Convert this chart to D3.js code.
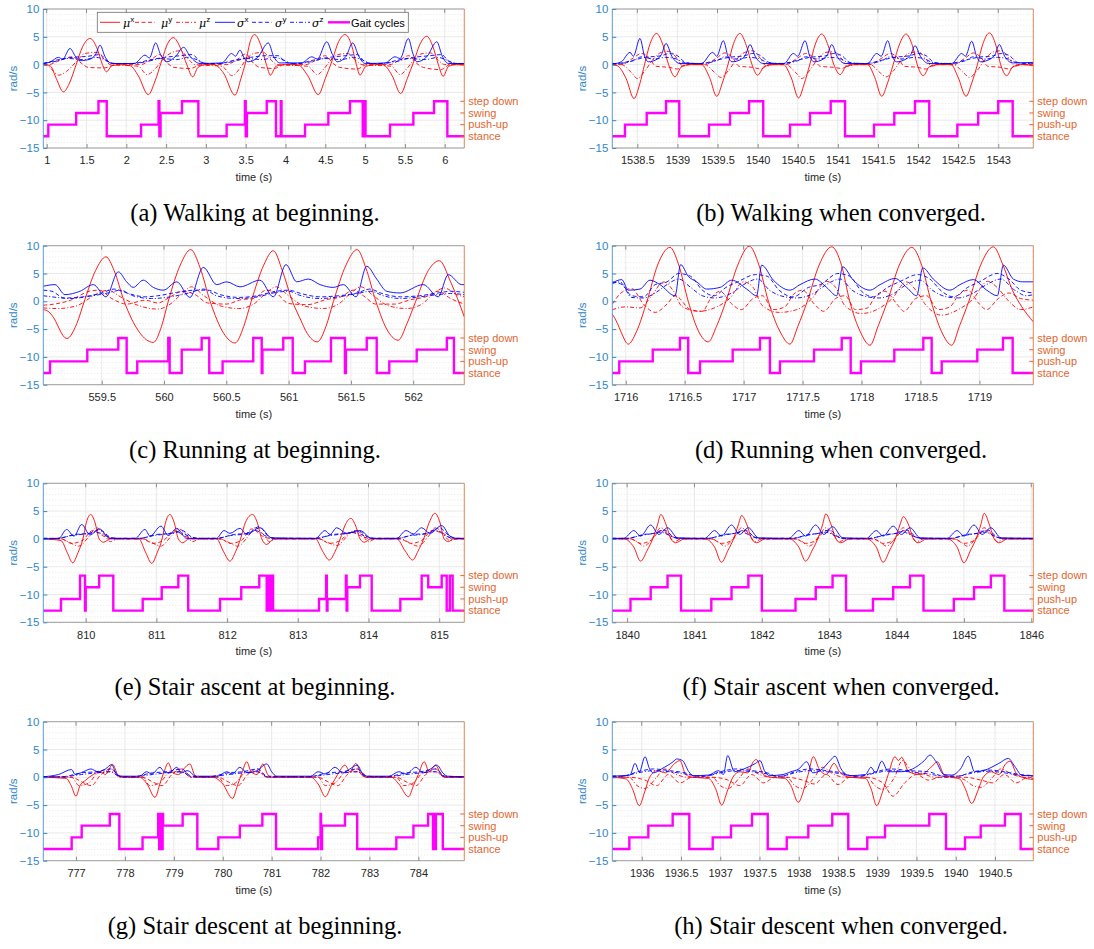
<!DOCTYPE html>
<html>
<head>
<meta charset="utf-8">
<script src="https://cdnjs.cloudflare.com/ajax/libs/d3/7.8.5/d3.min.js"></script>
<style>
  body { margin: 0; background: #fff; }
  svg { display: block; font-family: "Liberation Sans", Arial, sans-serif; }
</style>
</head>
<body>
<svg id="chart" width="1094" height="949"></svg>
<script>
// ---------- shared labels ----------
var captions = ["(a) Walking at beginning.", "(b) Walking when converged.",
                "(c) Running at beginning.", "(d) Running when converged.",
                "(e) Stair ascent at beginning.", "(f) Stair ascent when converged.",
                "(g) Stair descent at beginning.", "(h) Stair descent when converged."];
var yTicks = [-15, -10, -5, 0, 5, 10];
var gaitLabels = ["stance", "push-up", "swing", "step down"];
var gaitLevels = [-12.9, -10.8, -8.7, -6.6];
var legendBase = ["\u03bc", "\u03bc", "\u03bc", "\u03c3", "\u03c3", "\u03c3", "Gait cycles"];
var legendSup = ["x", "y", "z", "x", "y", "z", ""];

var xDomains = [[0.957, 6.246], [1538.188, 1543.437], [559.031, 562.41], [1715.886, 1719.457],
                [809.4, 815.355], [1839.78, 1846.03], [776.33, 784.94], [1935.625, 1940.988]];
var xTicks = [[1, 1.5, 2, 2.5, 3, 3.5, 4, 4.5, 5, 5.5, 6],
              [1538.5, 1539, 1539.5, 1540, 1540.5, 1541, 1541.5, 1542, 1542.5, 1543],
              [559.5, 560, 560.5, 561, 561.5, 562],
              [1716, 1716.5, 1717, 1717.5, 1718, 1718.5, 1719],
              [810, 811, 812, 813, 814, 815],
              [1840, 1841, 1842, 1843, 1844, 1845, 1846],
              [777, 778, 779, 780, 781, 782, 783, 784],
              [1936, 1936.5, 1937, 1937.5, 1938, 1938.5, 1939, 1939.5, 1940, 1940.5]];

// ---------- (a) walking at beginning ----------
var gait_a = [[0.957,0],[1.02,1],[1.37,2],[1.65,3],[1.754,0],[2.185,1],[2.405,3],[2.415,0],[2.43,2],[2.70,3],[2.905,0],[3.26,1],[3.49,3],[3.50,0],[3.515,2],[3.764,3],[3.88,0],[3.94,3],[3.95,0],[4.245,1],[4.538,2],[4.81,3],[4.97,0],[4.995,3],[5.005,0],[5.313,1],[5.606,2],[5.866,3],[6.033,0],[6.246,0]];
var muX_a = [[0.957,0.1],[1.05,-0.3],[1.12,-2.5],[1.21,-4.9],[1.28,-3.5],[1.37,0],[1.45,3.2],[1.545,4.7],[1.63,3.0],[1.70,0],[1.75,-1.3],[1.82,-0.2],[1.95,0],
  [2.05,-0.2],[2.15,-2.0],[2.276,-5.4],[2.36,-3.0],[2.44,0.5],[2.52,3.8],[2.59,4.85],[2.68,3.0],[2.76,0],[2.834,-2.2],[2.90,-0.5],[3.0,0],
  [3.10,0],[3.22,-1.5],[3.365,-5.5],[3.44,-2.5],[3.50,0.5],[3.56,4.3],[3.61,5.4],[3.69,3.5],[3.76,0],[3.81,-1.9],[3.88,-0.3],[4.0,0],
  [4.15,0],[4.28,-2.0],[4.412,-5.4],[4.50,-2.5],[4.58,0.5],[4.67,4.2],[4.747,5.4],[4.83,3.5],[4.89,0],[4.936,-1.9],[5.01,-0.3],[5.15,0],
  [5.22,0],[5.34,-2.0],[5.447,-5.2],[5.53,-2.5],[5.61,0.5],[5.70,4.0],[5.774,5.1],[5.85,3.3],[5.92,0],[5.98,-2.1],[6.05,-0.3],[6.15,0],[6.246,-0.1]];
var muY_a = [[0.957,0],[1.02,0],[1.17,0.8],[1.32,1.4],[1.44,0.2],[1.52,-0.5],[1.72,-0.6],[1.87,0],
  [2.18,0],[2.30,0.8],[2.42,1.8],[2.52,0.2],[2.60,-0.5],[2.80,-0.7],[2.95,0],
  [3.26,0],[3.38,0.8],[3.50,1.9],[3.60,0.2],[3.68,-0.5],[3.86,-0.7],[3.98,0],
  [4.25,0],[4.38,0.8],[4.50,1.6],[4.60,0.2],[4.68,-0.5],[4.90,-0.8],[5.02,0],
  [5.31,0],[5.43,0.8],[5.55,1.6],[5.65,0.2],[5.73,-0.5],[5.95,-0.9],[6.07,0],[6.246,0]];
var muZ_a = [[0.957,0],[1.02,-0.3],[1.15,-1.9],[1.25,-1.2],[1.37,0.5],[1.48,2.0],[1.62,2.2],[1.72,1.0],[1.80,0],
  [2.15,-0.3],[2.26,-1.8],[2.36,-0.8],[2.45,0.8],[2.55,2.0],[2.68,2.5],[2.78,1.0],[2.86,0],
  [3.20,-0.3],[3.33,-2.0],[3.42,-0.8],[3.50,0.8],[3.60,2.0],[3.72,2.2],[3.82,0.8],[3.90,0],
  [4.28,-0.3],[4.40,-1.8],[4.48,-0.8],[4.57,0.8],[4.66,1.8],[4.78,2.0],[4.88,0.8],[4.96,0],
  [5.33,-0.3],[5.44,-1.8],[5.52,-0.8],[5.61,0.8],[5.70,1.9],[5.82,2.1],[5.92,0.8],[6.0,0],[6.246,0]];
var sigX_a = [[0.957,0.2],[1.05,0.5],[1.146,1.3],[1.20,1.0],[1.293,2.9],[1.36,1.5],[1.418,0.7],[1.55,1.0],[1.62,2.0],[1.67,3.5],[1.73,1.5],[1.817,0.2],
  [2.10,0.2],[2.235,1.7],[2.29,1.2],[2.369,3.9],[2.43,1.8],[2.508,0.5],[2.62,1.5],[2.72,3.1],[2.80,1.5],[2.926,0.2],
  [3.20,0.3],[3.324,2.0],[3.37,1.5],[3.428,2.6],[3.48,1.2],[3.53,0.5],[3.65,1.3],[3.784,3.9],[3.85,1.5],[3.93,0.3],
  [4.20,0.3],[4.33,1.4],[4.40,1.0],[4.518,4.1],[4.59,1.8],[4.65,0.5],[4.76,1.5],[4.844,3.9],[4.92,1.5],[5.0,0.2],
  [5.25,0.3],[5.376,1.4],[5.44,1.1],[5.543,4.7],[5.60,2.0],[5.65,0.5],[5.78,1.5],[5.90,4.1],[5.97,1.5],[6.045,0.2],[6.246,0.2]];
var sigY_a = [[0.957,0.2],[1.12,0.8],[1.32,1.3],[1.52,1.5],[1.67,1.8],[1.77,0.5],[1.87,0.2],
  [2.08,0.2],[2.28,0.8],[2.48,1.3],[2.68,1.6],[2.83,1.8],[2.93,0.5],[3.03,0.2],
  [3.16,0.2],[3.36,0.8],[3.56,1.3],[3.76,1.6],[3.91,1.6],[4.0,0.4],[4.1,0.2],
  [4.15,0.2],[4.35,0.8],[4.55,1.3],[4.75,1.6],[4.90,1.8],[5.0,0.5],[5.1,0.2],
  [5.21,0.2],[5.41,0.8],[5.61,1.3],[5.81,1.6],[5.96,1.8],[6.06,0.5],[6.16,0.2],[6.246,0.2]];
var sigZ_a = [[0.957,0.2],[1.12,0.6],[1.27,1.1],[1.47,0.9],[1.62,1.3],[1.74,0.8],[1.84,0.2],
  [2.08,0.2],[2.28,0.6],[2.43,1.1],[2.63,0.9],[2.78,1.3],[2.90,0.8],[3.0,0.2],
  [3.16,0.2],[3.36,0.6],[3.51,1.1],[3.71,0.9],[3.86,1.3],[3.98,0.8],[4.08,0.2],
  [4.15,0.2],[4.35,0.6],[4.50,1.1],[4.70,0.9],[4.85,1.3],[4.97,0.8],[5.07,0.2],
  [5.21,0.2],[5.41,0.6],[5.56,1.1],[5.76,0.9],[5.91,1.3],[6.03,0.8],[6.13,0.2],[6.246,0.2]];

// ---------- (b) walking when converged ----------
var gait_b = [[1538.188,0],[1538.346,1],[1538.617,2],[1538.858,3],[1539.023,0],[1539.394,1],[1539.656,2],[1539.893,3],[1540.07,0],[1540.404,1],[1540.653,2],[1540.911,3],[1541.09,0],[1541.451,1],[1541.704,2],[1541.962,3],[1542.14,0],[1542.49,1],[1542.75,2],[1543.0,3],[1543.18,0],[1543.437,0]];
var muX_b = [[1538.188,0],[1538.25,-0.2],[1538.36,-2.5],[1538.459,-6.1],[1538.53,-3.5],[1538.59,0],[1538.66,3.8],[1538.74,5.6],[1538.82,3.5],[1538.89,0],[1538.97,-2.2],[1539.05,-0.4],[1539.15,0],
  [1539.30,0],[1539.40,-2.3],[1539.49,-5.7],[1539.56,-3.3],[1539.63,0],[1539.70,3.8],[1539.78,5.6],[1539.86,3.4],[1539.93,0],[1540.0,-1.9],[1540.08,-0.4],[1540.2,0],
  [1540.32,0],[1540.42,-2.4],[1540.51,-6.0],[1540.58,-3.5],[1540.65,0],[1540.72,3.7],[1540.80,5.5],[1540.88,3.4],[1540.95,0],[1541.03,-1.8],[1541.10,-0.4],[1541.22,0],
  [1541.37,0],[1541.46,-2.3],[1541.547,-5.7],[1541.62,-3.3],[1541.69,0],[1541.77,3.7],[1541.85,5.5],[1541.93,3.4],[1541.99,0],[1542.066,-2.0],[1542.14,-0.4],[1542.25,0],
  [1542.41,0],[1542.50,-2.3],[1542.598,-5.7],[1542.67,-3.3],[1542.74,0],[1542.81,3.8],[1542.89,5.7],[1542.97,3.5],[1543.03,0],[1543.106,-2.0],[1543.18,-0.4],[1543.30,0],[1543.437,-0.2]];
var muY_b = [[1538.188,0],[1538.30,0],[1538.45,1.2],[1538.55,2.0],[1538.65,1.2],[1538.73,-0.3],[1538.90,-0.5],[1539.0,-0.8],[1539.10,0],
  [1539.34,0],[1539.49,1.2],[1539.59,2.1],[1539.69,1.2],[1539.77,-0.3],[1539.94,-0.5],[1540.04,-0.8],[1540.14,0],
  [1540.35,0],[1540.50,1.2],[1540.60,2.0],[1540.70,1.2],[1540.78,-0.3],[1540.95,-0.5],[1541.05,-0.7],[1541.15,0],
  [1541.40,0],[1541.55,1.2],[1541.65,2.0],[1541.75,1.2],[1541.83,-0.3],[1542.0,-0.5],[1542.10,-0.8],[1542.20,0],
  [1542.44,0],[1542.59,1.2],[1542.69,2.1],[1542.79,1.2],[1542.87,-0.3],[1543.04,-0.5],[1543.14,-0.8],[1543.24,0],[1543.437,0]];
var muZ_b = [[1538.188,0],[1538.30,0],[1538.43,-1.5],[1538.50,-2.5],[1538.60,-1.0],[1538.70,1.0],[1538.80,2.2],[1538.90,2.4],[1539.0,1.0],[1539.07,-0.3],[1539.15,0],
  [1539.34,0],[1539.47,-1.5],[1539.54,-2.3],[1539.64,-1.0],[1539.74,1.0],[1539.84,2.2],[1539.94,2.5],[1540.04,1.0],[1540.11,-0.3],[1540.19,0],
  [1540.35,0],[1540.48,-1.5],[1540.55,-2.5],[1540.65,-1.0],[1540.75,1.0],[1540.85,2.2],[1540.95,2.3],[1541.05,1.0],[1541.12,-0.3],[1541.20,0],
  [1541.40,0],[1541.53,-1.5],[1541.60,-2.2],[1541.70,-1.0],[1541.80,1.0],[1541.90,2.1],[1542.0,2.3],[1542.10,1.0],[1542.17,-0.3],[1542.25,0],
  [1542.44,0],[1542.57,-1.5],[1542.64,-2.3],[1542.74,-1.0],[1542.84,1.0],[1542.94,2.3],[1543.04,2.5],[1543.14,1.0],[1543.21,-0.3],[1543.29,0],[1543.437,0]];
var sigX_b = [[1538.188,0.1],[1538.30,0.5],[1538.409,2.2],[1538.45,1.5],[1538.533,4.7],[1538.59,1.5],[1538.637,0.5],[1538.75,1.0],[1538.80,1.8],[1538.858,3.8],[1538.93,1.5],[1539.032,0.2],
  [1539.30,0.2],[1539.44,2.2],[1539.49,1.5],[1539.572,4.3],[1539.63,1.5],[1539.68,0.5],[1539.80,1.0],[1539.85,1.8],[1539.905,3.6],[1539.97,1.5],[1540.07,0.2],
  [1540.33,0.2],[1540.445,2.0],[1540.50,1.5],[1540.591,4.3],[1540.65,1.5],[1540.70,0.5],[1540.82,1.0],[1540.87,1.8],[1540.924,3.6],[1540.99,1.5],[1541.09,0.2],
  [1541.37,0.2],[1541.485,2.0],[1541.54,1.5],[1541.622,4.3],[1541.68,1.5],[1541.73,0.5],[1541.85,1.0],[1541.91,1.8],[1541.962,3.4],[1542.03,1.5],[1542.13,0.2],
  [1542.42,0.2],[1542.545,2.0],[1542.59,1.5],[1542.669,4.2],[1542.73,1.5],[1542.78,0.5],[1542.90,1.0],[1542.96,1.8],[1543.013,3.6],[1543.08,1.5],[1543.18,0.3],[1543.437,0.4]];
var sigY_b = [[1538.188,0.2],[1538.25,0.2],[1538.45,0.8],[1538.60,1.3],[1538.80,1.6],[1538.90,2.0],[1539.0,1.6],[1539.10,0.4],[1539.20,0.2],
  [1539.29,0.2],[1539.49,0.8],[1539.64,1.3],[1539.84,1.6],[1539.94,2.0],[1540.04,1.6],[1540.14,0.4],[1540.24,0.2],
  [1540.30,0.2],[1540.50,0.8],[1540.65,1.3],[1540.85,1.6],[1540.95,2.0],[1541.05,1.6],[1541.15,0.4],[1541.25,0.2],
  [1541.35,0.2],[1541.55,0.8],[1541.70,1.3],[1541.90,1.6],[1542.0,2.0],[1542.10,1.6],[1542.20,0.4],[1542.30,0.2],
  [1542.39,0.2],[1542.59,0.8],[1542.74,1.3],[1542.94,1.6],[1543.04,2.0],[1543.14,1.6],[1543.24,0.4],[1543.34,0.2],[1543.437,0.3]];
var sigZ_b = [[1538.188,0.2],[1538.25,0.2],[1538.45,0.7],[1538.55,1.4],[1538.70,1.0],[1538.85,1.3],[1538.97,1.1],[1539.10,0.3],
  [1539.29,0.2],[1539.49,0.7],[1539.59,1.4],[1539.74,1.0],[1539.89,1.3],[1540.01,1.1],[1540.14,0.3],
  [1540.30,0.2],[1540.50,0.7],[1540.60,1.4],[1540.75,1.0],[1540.90,1.3],[1541.02,1.1],[1541.15,0.3],
  [1541.35,0.2],[1541.55,0.7],[1541.65,1.4],[1541.80,1.0],[1541.95,1.3],[1542.07,1.1],[1542.20,0.3],
  [1542.39,0.2],[1542.59,0.7],[1542.69,1.4],[1542.84,1.0],[1542.99,1.3],[1543.11,1.1],[1543.24,0.3],[1543.437,0.2]];

// ---------- (c) running at beginning ----------
var gait_c = [[559.031,0],[559.085,1],[559.384,2],[559.633,3],[559.70,0],[559.785,1],[560.034,3],[560.045,0],[560.142,2],[560.302,3],[560.363,0],[560.47,1],[560.716,3],[560.784,0],[560.79,2],[560.957,3],[561.033,0],[561.131,1],[561.34,3],[561.452,0],[561.46,2],[561.627,3],[561.707,0],[561.808,1],[562.028,2],[562.27,3],[562.327,0],[562.41,0]];
var muX_c = [[559.031,-1.5],[559.07,-1.8],[559.10,-2.5],[559.22,-6.7],[559.30,-4.0],[559.36,0],[559.45,5.5],[559.534,8.0],[559.60,5.5],[559.68,0],[559.80,-5.5],[559.914,-7.4],[559.98,-4.5],[560.034,0],[560.13,6.5],[560.214,9.3],[560.29,6.0],[560.37,0],[560.48,-5.8],[560.57,-7.5],[560.64,-4.5],[560.70,0],[560.80,6.5],[560.877,9.1],[560.95,5.5],[561.03,0],[561.09,-3.0],[561.15,-5.8],[561.23,-7.3],[561.30,-4.5],[561.36,0],[561.46,6.5],[561.55,9.3],[561.62,6.0],[561.70,0],[561.80,-5.5],[561.88,-7.0],[561.95,-4.0],[562.02,0],[562.12,5.5],[562.21,7.3],[562.30,3.5],[562.41,-2.8]];
var muY_c = [[559.031,-0.7],[559.12,-0.5],[559.25,0.2],[559.40,1.8],[559.48,2.0],[559.58,0.5],[559.70,-0.5],[559.85,0.2],[559.95,-0.3],[560.05,0.8],[560.15,1.8],[560.25,1.2],[560.35,-0.3],[560.50,-0.5],[560.62,0.3],[560.72,0.5],[560.82,2.0],[560.90,1.5],[561.0,-0.4],[561.15,-0.6],[561.30,0.3],[561.42,0.8],[561.52,2.0],[561.60,1.0],[561.70,-0.5],[561.85,-0.5],[561.98,0.3],[562.10,0.8],[562.20,1.8],[562.30,0.5],[562.41,-0.5]];
var muZ_c = [[559.031,-1.2],[559.15,-1.3],[559.30,-0.8],[559.45,1.2],[559.55,2.0],[559.65,0.8],[559.80,-0.8],[559.95,-1.4],[560.05,-0.5],[560.15,1.5],[560.22,2.6],[560.32,1.0],[560.45,-0.8],[560.60,-1.3],[560.72,-0.5],[560.82,1.5],[560.90,2.6],[561.0,1.0],[561.12,-0.8],[561.28,-1.3],[561.40,-0.5],[561.50,1.5],[561.58,2.6],[561.68,1.0],[561.80,-0.8],[561.95,-1.3],[562.07,-0.5],[562.17,1.5],[562.25,2.4],[562.35,1.2],[562.41,0.8]];
var sigX_c = [[559.031,2.7],[559.125,3.0],[559.205,1.2],[559.325,1.8],[559.432,3.0],[559.534,0.8],[559.633,5.3],[559.70,3.5],[559.753,2.5],[559.833,3.8],[559.914,2.5],[559.994,2.0],[560.102,3.5],[560.208,0.7],[560.315,6.1],[560.423,3.0],[560.503,3.5],[560.61,2.6],[560.77,3.8],[560.877,0.8],[560.979,6.6],[561.065,3.5],[561.158,4.0],[561.252,3.0],[561.358,2.5],[561.439,3.0],[561.541,0.8],[561.627,6.3],[561.707,4.0],[561.787,1.8],[561.894,1.5],[562.081,3.0],[562.201,0.8],[562.281,4.8],[562.389,3.0],[562.41,3.0]];
var sigY_c = [[559.031,2.0],[559.10,1.8],[559.20,0.6],[559.35,0.8],[559.50,1.5],[559.60,2.2],[559.70,1.5],[559.85,0.8],[559.95,1.0],[560.10,1.6],[560.25,2.0],[560.35,2.0],[560.45,1.2],[560.60,0.7],[560.75,1.0],[560.90,1.8],[561.0,2.0],[561.10,1.4],[561.25,0.8],[561.40,1.0],[561.55,1.5],[561.65,2.2],[561.75,1.4],[561.90,0.8],[562.05,1.0],[562.20,1.5],[562.30,1.8],[562.41,1.6]];
var sigZ_c = [[559.031,1.0],[559.10,0.8],[559.25,0.5],[559.40,0.9],[559.55,1.5],[559.65,2.0],[559.75,1.0],[559.90,0.5],[560.05,0.8],[560.20,1.5],[560.32,2.2],[560.42,1.0],[560.58,0.5],[560.75,0.8],[560.90,1.6],[561.0,1.8],[561.10,1.0],[561.25,0.5],[561.40,0.8],[561.55,1.4],[561.66,1.8],[561.76,1.0],[561.90,0.5],[562.05,0.8],[562.20,1.2],[562.30,1.4],[562.41,1.2]];

// ---------- (d) running when converged ----------
var gait_d = [[1715.886,0],[1715.945,1],[1716.229,2],[1716.46,3],[1716.53,0],[1716.63,1],[1716.907,2],[1717.139,3],[1717.223,0],[1717.308,1],[1717.597,2],[1717.832,3],[1717.908,0],[1717.995,1],[1718.278,2],[1718.524,3],[1718.595,0],[1718.68,1],[1718.982,2],[1719.2,3],[1719.282,0],[1719.457,0]];
var muX_d = [[1715.886,-2.3],[1715.93,-4.0],[1715.96,-5.5],[1716.022,-7.7],[1716.09,-5.5],[1716.18,0],[1716.27,6.5],[1716.375,9.7],[1716.45,6.5],[1716.53,0],[1716.62,-5.5],[1716.70,-7.3],[1716.77,-4.5],[1716.85,0],[1716.95,6.5],[1717.048,9.9],[1717.13,6.5],[1717.21,0],[1717.31,-5.5],[1717.393,-7.7],[1717.46,-4.5],[1717.54,0],[1717.64,6.5],[1717.747,9.8],[1717.83,6.5],[1717.90,0],[1717.99,-5.5],[1718.072,-7.9],[1718.14,-4.5],[1718.22,0],[1718.32,6.5],[1718.426,9.7],[1718.51,6.5],[1718.59,0],[1718.68,-5.5],[1718.765,-7.9],[1718.83,-4.5],[1718.91,0],[1719.01,6.5],[1719.118,9.8],[1719.20,6.5],[1719.28,2.0],[1719.36,-1.0],[1719.457,-3.7]];
var muY_d = [[1715.886,-0.5],[1715.96,1.5],[1716.05,2.3],[1716.15,-0.5],[1716.25,-2.0],[1716.35,-0.5],[1716.42,1.0],[1716.55,-1.5],[1716.65,-1.8],[1716.72,0.5],[1716.80,1.8],[1716.90,-0.5],[1716.98,-1.5],[1717.08,0.5],[1717.16,1.0],[1717.25,-1.5],[1717.35,-1.0],[1717.42,1.2],[1717.50,2.0],[1717.60,-0.5],[1717.68,-1.8],[1717.78,0.5],[1717.86,1.0],[1717.95,-1.5],[1718.05,-1.2],[1718.12,1.0],[1718.20,1.8],[1718.30,-0.5],[1718.36,-1.8],[1718.46,0.5],[1718.55,1.0],[1718.65,-1.5],[1718.75,-1.0],[1718.82,1.0],[1718.90,2.0],[1719.0,-0.5],[1719.06,-1.5],[1719.16,0.5],[1719.25,1.5],[1719.35,0.5],[1719.457,0.2]];
var muZ_d = [[1715.886,-1.5],[1716.0,-1.0],[1716.12,-1.2],[1716.22,1.0],[1716.32,3.5],[1716.40,2.0],[1716.48,-1.0],[1716.62,-1.8],[1716.75,-1.2],[1716.88,0.5],[1717.0,3.5],[1717.08,2.5],[1717.16,-0.8],[1717.30,-2.0],[1717.45,-1.5],[1717.58,0.5],[1717.70,3.6],[1717.78,2.5],[1717.86,-0.8],[1718.0,-2.2],[1718.13,-1.5],[1718.26,0.5],[1718.38,3.5],[1718.46,2.0],[1718.55,-0.8],[1718.68,-2.5],[1718.82,-1.5],[1718.95,0.5],[1719.07,3.6],[1719.15,2.5],[1719.25,0.0],[1719.35,-1.5],[1719.457,-1.0]];
var sigX_d = [[1715.886,3.3],[1715.966,3.9],[1716.022,2.0],[1716.121,2.2],[1716.206,3.8],[1716.29,3.0],[1716.418,1.0],[1716.466,6.6],[1716.53,4.5],[1716.602,3.5],[1716.687,2.2],[1716.80,2.5],[1716.899,3.8],[1717.026,2.2],[1717.11,1.0],[1717.153,6.5],[1717.252,3.8],[1717.393,2.0],[1717.478,3.0],[1717.605,4.0],[1717.704,2.5],[1717.789,1.0],[1717.84,6.2],[1717.93,3.8],[1718.072,2.0],[1718.157,3.0],[1718.284,4.1],[1718.383,2.5],[1718.468,1.0],[1718.519,6.0],[1718.609,4.0],[1718.75,2.0],[1718.835,3.0],[1718.948,3.9],[1719.062,2.0],[1719.152,1.0],[1719.203,6.5],[1719.288,4.0],[1719.367,3.5],[1719.457,3.5]];
var sigY_d = [[1715.886,3.5],[1715.97,3.0],[1716.05,1.0],[1716.15,0.8],[1716.25,3.0],[1716.35,3.5],[1716.45,5.0],[1716.55,4.5],[1716.65,2.0],[1716.75,1.0],[1716.85,2.5],[1716.95,3.5],[1717.10,4.8],[1717.20,4.5],[1717.30,2.0],[1717.42,0.8],[1717.55,2.5],[1717.65,3.0],[1717.80,5.0],[1717.90,4.5],[1718.0,1.8],[1718.10,0.8],[1718.22,2.5],[1718.32,3.5],[1718.48,4.8],[1718.58,4.0],[1718.68,1.8],[1718.78,0.8],[1718.90,2.5],[1719.0,3.5],[1719.15,5.0],[1719.25,4.0],[1719.35,2.0],[1719.457,1.5]];
var sigZ_d = [[1715.886,3.2],[1715.95,3.5],[1716.05,0.7],[1716.15,0.6],[1716.25,1.5],[1716.35,3.0],[1716.45,4.0],[1716.55,2.5],[1716.65,1.0],[1716.75,0.6],[1716.90,1.5],[1717.0,3.0],[1717.12,4.0],[1717.22,2.0],[1717.35,0.8],[1717.45,0.6],[1717.60,1.5],[1717.70,3.0],[1717.82,4.0],[1717.92,2.0],[1718.05,0.8],[1718.15,0.6],[1718.28,1.5],[1718.38,3.0],[1718.50,3.8],[1718.60,2.0],[1718.72,0.8],[1718.82,0.6],[1718.95,1.5],[1719.06,3.0],[1719.18,4.0],[1719.30,2.0],[1719.40,1.0],[1719.457,1.2]];

// ---------- (e) stair ascent at beginning ----------
var gait_e = [[809.4,0],[809.65,1],[809.92,3],[809.99,0],[810.0,2],[810.19,3],[810.39,0],[810.806,1],[811.075,2],[811.31,3],[811.45,0],[811.9,1],[812.2,2],[812.455,3],[812.56,0],[812.585,3],[812.59,0],[812.615,3],[812.62,0],[812.645,3],[812.65,0],[813.3,1],[813.40,3],[813.41,0],[813.42,1],[813.68,3],[813.69,0],[813.70,2],[813.88,3],[814.045,0],[814.45,1],[814.752,3],[814.845,2],[815.035,3],[815.106,0],[815.15,3],[815.19,0],[815.355,0]];
var muX_e = [[809.4,0],[809.65,-0.3],[809.74,-2.5],[809.816,-4.3],[809.89,-2.5],[809.96,0],[810.01,3.0],[810.07,4.4],[810.13,3.0],[810.19,0],[810.25,-0.6],[810.35,0],
  [810.75,0],[810.85,-2.5],[810.933,-4.4],[811.01,-2.5],[811.08,0],[811.13,3.0],[811.19,4.4],[811.25,3.0],[811.31,0],[811.37,-0.7],[811.46,0],
  [811.85,0],[811.95,-2.3],[812.04,-4.0],[812.12,-2.3],[812.19,0],[812.26,3.0],[812.36,4.4],[812.43,2.8],[812.49,0],[812.56,-1.0],[812.66,0],
  [813.25,0],[813.35,-2.2],[813.445,-3.8],[813.53,-2.2],[813.60,0],[813.67,2.5],[813.75,3.7],[813.82,2.3],[813.88,0],[813.94,-0.6],[814.03,0],
  [814.40,0],[814.52,-2.2],[814.625,-3.8],[814.70,-2.2],[814.78,0],[814.86,3.0],[814.94,4.6],[815.01,3.0],[815.07,0],[815.13,-0.5],[815.20,0],[815.355,0]];
var muY_e = [[809.4,0],[809.65,0],[809.80,-0.8],[809.95,-0.3],[810.10,1.5],[810.25,0.5],[810.40,0],
  [810.80,0],[810.95,-0.8],[811.10,-0.3],[811.25,1.5],[811.40,0.5],[811.55,0],
  [811.90,0],[812.05,-0.8],[812.20,-0.3],[812.35,1.8],[812.50,0.5],[812.65,0],
  [813.30,0],[813.45,-0.8],[813.60,-0.3],[813.75,1.2],[813.90,0.5],[814.05,0],
  [814.45,0],[814.60,-0.8],[814.75,-0.3],[814.90,1.5],[815.05,1.0],[815.20,0],[815.355,0]];
var muZ_e = [[809.4,0],[809.65,0],[809.75,-0.5],[809.90,-1.3],[810.05,0.5],[810.15,2.0],[810.25,1.0],[810.35,-0.5],[810.45,0],
  [810.81,0],[810.91,-0.5],[811.06,-1.3],[811.21,0.5],[811.31,1.8],[811.41,1.0],[811.51,-0.5],[811.61,0],
  [811.90,0],[812.0,-0.5],[812.15,-1.3],[812.30,0.5],[812.40,2.0],[812.50,1.0],[812.60,-0.5],[812.70,0],
  [813.30,0],[813.40,-0.5],[813.55,-1.2],[813.70,0.5],[813.80,1.5],[813.90,1.0],[814.0,-0.5],[814.10,0],
  [814.45,0],[814.55,-0.5],[814.70,-1.3],[814.85,0.5],[814.95,2.0],[815.05,1.0],[815.15,-0.3],[815.25,0],[815.355,0]];
var sigX_e = [[809.4,0],[809.62,0.1],[809.73,1.7],[809.834,0.5],[809.943,2.6],[810.06,0.7],[810.192,1.8],[810.343,0.1],
  [810.70,0.1],[810.838,1.7],[810.909,0.5],[811.065,2.3],[811.168,0.6],[811.287,1.9],[811.428,0.1],
  [811.85,0.1],[811.956,1.5],[812.04,1.0],[812.182,1.9],[812.277,0.8],[812.465,2.0],[812.63,0.2],
  [813.25,0.1],[813.385,1.5],[813.455,0.8],[813.55,2.0],[813.69,1.0],[813.88,1.5],[814.045,0.1],
  [814.40,0.1],[814.53,1.5],[814.634,0.9],[814.752,2.0],[814.87,1.0],[815.035,2.4],[815.152,0.5],[815.25,0.1],[815.355,0.1]];
var sigY_e = [[809.4,0.1],[809.60,0.1],[809.85,0.8],[810.05,1.0],[810.20,1.6],[810.35,0.3],[810.45,0.1],
  [810.76,0.1],[811.01,0.8],[811.21,1.0],[811.36,1.5],[811.51,0.3],[811.61,0.1],
  [811.85,0.1],[812.10,0.8],[812.30,1.0],[812.45,2.2],[812.60,0.3],[812.70,0.1],
  [813.25,0.1],[813.50,0.8],[813.70,1.0],[813.85,1.5],[814.0,0.3],[814.10,0.1],
  [814.40,0.1],[814.65,0.8],[814.85,1.0],[815.0,2.0],[815.15,0.5],[815.25,0.1],[815.355,0.1]];
var sigZ_e = [[809.4,0.1],[809.60,0.1],[809.80,0.6],[810.0,0.9],[810.15,1.2],[810.30,0.5],[810.40,0.1],
  [810.76,0.1],[810.96,0.6],[811.16,0.9],[811.31,1.2],[811.46,0.5],[811.56,0.1],
  [811.85,0.1],[812.05,0.6],[812.25,0.9],[812.40,1.5],[812.55,0.5],[812.65,0.1],
  [813.25,0.1],[813.45,0.6],[813.65,0.9],[813.80,1.2],[813.95,0.5],[814.05,0.1],
  [814.40,0.1],[814.60,0.6],[814.80,0.9],[814.95,1.6],[815.10,0.5],[815.20,0.1],[815.355,0.1]];

// ---------- (f) stair ascent when converged ----------
var gait_f = [[1839.78,0],[1840.05,1],[1840.35,2],[1840.6,3],[1840.8,0],[1841.25,1],[1841.55,2],[1841.8,3],[1842.0,0],[1842.5,1],[1842.8,2],[1843.05,3],[1843.25,0],[1843.65,1],[1843.95,2],[1844.2,3],[1844.4,0],[1844.85,1],[1845.15,2],[1845.4,3],[1845.6,0],[1846.03,0]];
var muX_f = [[1839.78,0],[1839.95,0],[1840.1,-1.5],[1840.2,-4.0],[1840.3,-2.0],[1840.38,0],[1840.45,2.5],[1840.5,4.4],[1840.58,2.5],[1840.65,0],[1840.72,-0.7],[1840.85,0],
  [1841.15,0],[1841.3,-1.5],[1841.4,-4.2],[1841.5,-2.0],[1841.58,0],[1841.65,2.5],[1841.7,4.2],[1841.78,2.5],[1841.85,0],[1841.92,-0.7],[1842.05,0],
  [1842.4,0],[1842.55,-1.5],[1842.65,-4.0],[1842.75,-2.0],[1842.83,0],[1842.9,2.5],[1842.95,4.5],[1843.03,2.5],[1843.1,0],[1843.17,-0.7],[1843.3,0],
  [1843.55,0],[1843.7,-1.5],[1843.8,-4.2],[1843.9,-2.0],[1843.98,0],[1844.05,2.5],[1844.1,4.0],[1844.18,2.5],[1844.25,0],[1844.32,-0.7],[1844.45,0],
  [1844.75,0],[1844.9,-1.5],[1845.0,-4.3],[1845.1,-2.0],[1845.18,0],[1845.25,2.5],[1845.3,4.6],[1845.38,2.5],[1845.45,0],[1845.52,-0.7],[1845.65,0],[1846.03,0]];
var muY_f = [[1839.78,0],[1840.05,0],[1840.2,-0.8],[1840.35,-0.3],[1840.5,1.5],[1840.65,0.5],[1840.8,0],
  [1841.25,0],[1841.4,-0.8],[1841.55,-0.3],[1841.7,1.5],[1841.85,0.5],[1842.0,0],
  [1842.5,0],[1842.65,-0.8],[1842.8,-0.3],[1842.95,1.5],[1843.1,0.5],[1843.25,0],
  [1843.65,0],[1843.8,-0.8],[1843.95,-0.3],[1844.1,1.5],[1844.25,0.5],[1844.4,0],
  [1844.85,0],[1845.0,-0.8],[1845.15,-0.3],[1845.3,1.5],[1845.45,0.5],[1845.6,0],[1846.03,0]];
var muZ_f = [[1839.78,0],[1840.05,0],[1840.15,-0.5],[1840.25,-1.3],[1840.4,0.5],[1840.5,2.0],[1840.6,1.0],[1840.7,-0.5],[1840.8,0],
  [1841.25,0],[1841.35,-0.5],[1841.45,-1.3],[1841.6,0.5],[1841.7,2.0],[1841.8,1.0],[1841.9,-0.5],[1842.0,0],
  [1842.5,0],[1842.6,-0.5],[1842.7,-1.3],[1842.85,0.5],[1842.95,2.0],[1843.05,1.0],[1843.15,-0.5],[1843.25,0],
  [1843.65,0],[1843.75,-0.5],[1843.85,-1.3],[1844.0,0.5],[1844.1,2.0],[1844.2,1.0],[1844.3,-0.5],[1844.4,0],
  [1844.85,0],[1844.95,-0.5],[1845.05,-1.3],[1845.2,0.5],[1845.3,2.0],[1845.4,1.0],[1845.5,-0.5],[1845.6,0],[1846.03,0]];
var sigX_f = [[1839.78,0.1],[1839.95,0.1],[1840.1,1.5],[1840.2,0.5],[1840.35,2.5],[1840.47,0.8],[1840.6,2.0],[1840.75,0.2],
  [1841.15,0.1],[1841.3,1.5],[1841.4,0.5],[1841.55,2.5],[1841.67,0.8],[1841.8,2.0],[1841.95,0.2],
  [1842.4,0.1],[1842.55,1.5],[1842.65,0.5],[1842.8,2.5],[1842.92,0.8],[1843.05,2.2],[1843.2,0.2],
  [1843.55,0.1],[1843.7,1.5],[1843.8,0.5],[1843.95,2.3],[1844.07,0.8],[1844.2,2.0],[1844.35,0.2],
  [1844.75,0.1],[1844.9,1.5],[1845.0,0.5],[1845.15,2.5],[1845.27,0.8],[1845.4,2.0],[1845.55,0.2],[1846.03,0.1]];
var sigY_f = [[1839.78,0.1],[1840.0,0.1],[1840.25,0.8],[1840.4,1.0],[1840.55,1.6],[1840.7,0.3],[1840.8,0.1],
  [1841.2,0.1],[1841.45,0.8],[1841.6,1.0],[1841.75,1.6],[1841.9,0.3],[1842.0,0.1],
  [1842.45,0.1],[1842.7,0.8],[1842.85,1.0],[1843.0,1.6],[1843.15,0.3],[1843.25,0.1],
  [1843.6,0.1],[1843.85,0.8],[1844.0,1.0],[1844.15,1.6],[1844.3,0.3],[1844.4,0.1],
  [1844.8,0.1],[1845.05,0.8],[1845.2,1.0],[1845.35,1.6],[1845.5,0.3],[1845.6,0.1],[1846.03,0.1]];
var sigZ_f = [[1839.78,0.1],[1840.0,0.1],[1840.2,0.6],[1840.35,0.9],[1840.5,1.2],[1840.65,0.5],[1840.75,0.1],
  [1841.2,0.1],[1841.4,0.6],[1841.55,0.9],[1841.7,1.2],[1841.85,0.5],[1841.95,0.1],
  [1842.45,0.1],[1842.65,0.6],[1842.8,0.9],[1842.95,1.2],[1843.1,0.5],[1843.2,0.1],
  [1843.6,0.1],[1843.8,0.6],[1843.95,0.9],[1844.1,1.2],[1844.25,0.5],[1844.35,0.1],
  [1844.8,0.1],[1845.0,0.6],[1845.15,0.9],[1845.3,1.2],[1845.45,0.5],[1845.55,0.1],[1846.03,0.1]];

// ---------- (g) stair descent at beginning ----------
var gait_g = [[776.33,0],[776.91,1],[777.115,2],[777.69,3],[777.885,0],[778.36,1],[778.68,3],[778.70,0],[778.725,3],[778.745,0],[778.77,3],[778.78,2],[779.18,3],[779.48,0],[779.91,1],[780.35,2],[780.81,3],[781.09,0],[781.95,1],[782.0,3],[782.01,0],[782.03,2],[782.5,3],[782.75,0],[783.55,1],[783.9,2],[784.2,3],[784.3,0],[784.32,3],[784.34,0],[784.36,3],[784.5,0],[784.94,0]];
var muX_g = [[776.33,0],[776.80,-0.2],[776.90,-1.5],[776.999,-3.4],[777.08,-1.5],[777.20,-0.5],[777.35,0.5],[777.50,1.0],[777.60,0.5],[777.75,2.3],[777.85,0.5],[777.95,0],
  [778.30,0],[778.45,-1.2],[778.615,-3.6],[778.72,-1.0],[778.80,1.0],[778.886,2.6],[778.98,0.8],[779.10,0.5],[779.20,1.5],[779.33,2.4],[779.42,0.5],[779.50,0],
  [779.80,0],[780.0,-1.2],[780.20,-3.8],[780.30,-1.5],[780.40,1.0],[780.49,2.8],[780.58,1.0],[780.70,0.5],[780.82,2.4],[780.92,0.5],[781.0,0],
  [781.80,0],[781.95,-1.2],[782.10,-3.5],[782.22,-1.5],[782.35,0.5],[782.50,2.2],[782.60,1.0],[782.72,2.5],[782.85,0.3],[782.95,0],
  [783.45,0],[783.60,-1.2],[783.80,-3.5],[783.90,-1.5],[784.0,0.5],[784.12,2.8],[784.22,1.0],[784.35,2.2],[784.48,0.3],[784.60,0],[784.94,0]];
var muY_g = [[776.33,0],[776.91,0],[777.11,-0.8],[777.31,-1.5],[777.51,0.5],[777.71,1.5],[777.91,0],
  [778.36,0],[778.56,-0.8],[778.76,-1.5],[778.96,0.5],[779.16,1.5],[779.36,0],
  [779.91,0],[780.11,-0.8],[780.31,-1.5],[780.51,0.5],[780.71,1.5],[780.91,0],
  [781.95,0],[782.15,-0.8],[782.35,-1.5],[782.55,0.5],[782.75,1.5],[782.95,0],
  [783.55,0],[783.75,-0.8],[783.95,-1.5],[784.15,0.5],[784.35,1.5],[784.55,0],[784.94,0]];
var muZ_g = [[776.33,0],[776.91,0],[777.06,-1.5],[777.26,-1.0],[777.46,0.8],[777.71,1.0],[777.91,0],
  [778.36,0],[778.51,-1.5],[778.71,-1.0],[778.91,0.8],[779.16,1.0],[779.36,0],
  [779.91,0],[780.06,-1.5],[780.26,-1.0],[780.46,0.8],[780.71,1.0],[780.91,0],
  [781.95,0],[782.10,-1.5],[782.30,-1.0],[782.50,0.8],[782.75,1.0],[782.95,0],
  [783.55,0],[783.70,-1.5],[783.90,-1.0],[784.10,0.8],[784.35,1.0],[784.55,0],[784.94,0]];
var sigX_g = [[776.33,0.1],[776.64,0.5],[776.91,1.4],[776.98,0.5],[777.15,1.0],[777.30,1.5],[777.45,1.0],[777.60,1.5],[777.73,2.3],[777.80,1.0],[777.90,0.2],
  [778.30,0.2],[778.44,1.0],[778.55,0.6],[778.716,1.8],[778.80,1.0],[778.90,0.8],[779.06,1.8],[779.15,0.8],[779.28,1.2],[779.45,0.2],
  [779.90,0.2],[780.08,1.0],[780.20,0.6],[780.35,1.8],[780.50,0.8],[780.70,1.2],[780.90,2.4],[781.0,1.0],[781.10,0.2],
  [781.80,0.2],[781.95,1.0],[782.10,0.6],[782.30,1.8],[782.45,0.8],[782.60,1.5],[782.75,2.2],[782.85,0.8],[782.95,0.2],
  [783.40,0.2],[783.60,1.0],[783.75,0.6],[783.95,1.8],[784.10,0.8],[784.25,1.5],[784.38,2.2],[784.50,0.8],[784.60,0.2],[784.94,0.1]];
var sigY_g = [[776.33,0.1],[776.71,0.1],[777.11,0.8],[777.41,1.0],[777.71,1.5],[777.91,0.2],
  [778.16,0.1],[778.56,0.8],[778.86,1.0],[779.16,1.5],[779.36,0.2],
  [779.71,0.1],[780.11,0.8],[780.41,1.0],[780.71,1.5],[780.91,0.2],
  [781.75,0.1],[782.15,0.8],[782.45,1.0],[782.75,1.5],[782.95,0.2],
  [783.35,0.1],[783.75,0.8],[784.05,1.0],[784.35,1.5],[784.55,0.2],[784.94,0.1]];
var sigZ_g = [[776.33,0.1],[776.71,0.1],[777.11,0.5],[777.41,0.8],[777.71,1.0],[777.91,0.1],
  [778.16,0.1],[778.56,0.5],[778.86,0.8],[779.16,1.0],[779.36,0.1],
  [779.71,0.1],[780.11,0.5],[780.41,0.8],[780.71,1.0],[780.91,0.1],
  [781.75,0.1],[782.15,0.5],[782.45,0.8],[782.75,1.0],[782.95,0.1],
  [783.35,0.1],[783.75,0.5],[784.05,0.8],[784.35,1.0],[784.55,0.1],[784.94,0.1]];

// ---------- (h) stair descent when converged ----------
var gait_h = [[1935.625,0],[1935.842,1],[1936.084,2],[1936.394,3],[1936.606,0],[1936.904,1],[1937.137,2],[1937.405,3],[1937.605,0],[1937.847,1],[1938.122,2],[1938.427,3],[1938.631,0],[1938.873,1],[1939.099,2],[1939.663,3],[1939.876,0],[1940.118,1],[1940.318,2],[1940.627,3],[1940.827,0],[1940.988,0]];
var muX_h = [[1935.625,0],[1935.80,-0.3],[1935.88,-2.0],[1935.969,-5.1],[1936.04,-2.5],[1936.10,0],[1936.20,1.2],[1936.30,0.8],[1936.42,2.5],[1936.487,3.0],[1936.56,0.5],[1936.65,0],
  [1936.85,-0.2],[1936.94,-2.0],[1937.019,-5.0],[1937.09,-2.5],[1937.16,0],[1937.25,1.0],[1937.35,0.8],[1937.42,2.8],[1937.46,3.2],[1937.55,0.5],[1937.65,0],
  [1937.82,-0.2],[1937.90,-1.5],[1937.994,-4.5],[1938.07,-2.0],[1938.12,0.5],[1938.186,3.7],[1938.26,1.5],[1938.35,0.5],[1938.45,2.5],[1938.52,1.0],[1938.65,0],
  [1938.85,-0.2],[1938.92,-2.0],[1938.993,-5.1],[1939.07,-2.5],[1939.14,0.5],[1939.226,3.7],[1939.27,3.0],[1939.31,3.6],[1939.40,1.0],[1939.55,0.5],[1939.70,2.0],[1939.765,2.8],[1939.85,0.5],[1939.95,0],
  [1940.05,-0.3],[1940.12,-2.0],[1940.203,-4.7],[1940.28,-2.5],[1940.35,0],[1940.45,1.0],[1940.55,0.5],[1940.64,2.5],[1940.69,2.9],[1940.78,0.5],[1940.85,0],[1940.988,-0.4]];
var muY_h = [[1935.625,0],[1935.84,0],[1936.04,-0.5],[1936.19,-1.5],[1936.34,0.5],[1936.49,-1.0],[1936.64,0],
  [1936.90,0],[1937.10,-0.5],[1937.25,-1.5],[1937.40,0.5],[1937.55,-1.0],[1937.70,0],
  [1937.85,0],[1938.05,-0.5],[1938.20,-1.2],[1938.35,0.5],[1938.50,-1.3],[1938.65,0],
  [1938.87,0],[1939.07,-1.0],[1939.20,-3.4],[1939.35,-1.0],[1939.50,0.5],[1939.65,-0.5],[1939.80,0],
  [1940.12,0],[1940.32,-0.5],[1940.47,-1.0],[1940.62,0.5],[1940.77,-1.0],[1940.92,0],[1940.988,0]];
var muZ_h = [[1935.625,0],[1935.84,0],[1935.94,-1.5],[1936.04,-2.0],[1936.19,0],[1936.29,1.5],[1936.44,0.5],[1936.59,0],
  [1936.90,0],[1937.0,-1.5],[1937.10,-2.0],[1937.25,0],[1937.35,1.5],[1937.50,0.5],[1937.65,0],
  [1937.85,0],[1937.95,-1.5],[1938.05,-2.0],[1938.20,0],[1938.30,1.8],[1938.45,0.5],[1938.60,0],
  [1938.87,0],[1938.97,-1.5],[1939.07,-2.2],[1939.22,0],[1939.32,3.0],[1939.45,1.0],[1939.60,0.5],[1939.75,0],
  [1940.0,0],[1940.12,-0.5],[1940.22,-1.5],[1940.32,-1.8],[1940.47,0],[1940.57,1.5],[1940.72,0.5],[1940.87,0],[1940.988,-0.2]];
var sigX_h = [[1935.625,0.2],[1935.85,0.4],[1935.914,2.5],[1935.97,1.0],[1936.042,3.7],[1936.10,1.5],[1936.15,0.8],[1936.25,1.5],[1936.40,2.8],[1936.445,3.3],[1936.52,3.0],[1936.60,1.0],[1936.657,0.3],
  [1936.85,0.4],[1936.98,1.2],[1937.04,0.5],[1937.095,3.9],[1937.18,1.0],[1937.30,1.5],[1937.45,2.5],[1937.507,3.0],[1937.57,1.0],[1937.63,0.3],
  [1937.80,0.5],[1937.90,1.0],[1938.0,1.5],[1938.101,2.8],[1938.18,0.8],[1938.30,1.5],[1938.40,3.0],[1938.462,3.8],[1938.54,1.5],[1938.65,0.3],
  [1938.85,0.5],[1938.92,1.8],[1938.98,0.8],[1939.057,2.9],[1939.14,1.0],[1939.30,1.0],[1939.45,1.5],[1939.60,3.0],[1939.672,4.0],[1939.75,2.8],[1939.85,0.5],
  [1939.95,0.4],[1940.06,1.5],[1940.16,3.8],[1940.24,1.0],[1940.35,1.2],[1940.55,2.5],[1940.67,3.4],[1940.75,2.0],[1940.85,0.3],[1940.988,0.3]];
var sigY_h = [[1935.625,0.2],[1935.75,0.2],[1935.95,1.0],[1936.15,1.5],[1936.35,1.2],[1936.55,0.8],[1936.70,0.2],
  [1936.80,0.2],[1937.0,1.0],[1937.20,1.5],[1937.40,1.2],[1937.60,0.8],[1937.72,0.2],
  [1937.78,0.2],[1937.95,1.0],[1938.15,1.5],[1938.35,1.2],[1938.55,0.8],[1938.70,0.2],
  [1938.78,0.2],[1938.98,1.0],[1939.18,1.5],[1939.40,1.2],[1939.65,1.0],[1939.85,0.2],
  [1940.02,0.2],[1940.22,1.0],[1940.42,1.3],[1940.62,1.0],[1940.82,0.5],[1940.988,0.3]];
var sigZ_h = [[1935.625,0.2],[1935.75,0.2],[1935.95,0.8],[1936.15,1.2],[1936.35,1.0],[1936.55,0.6],[1936.70,0.2],
  [1936.80,0.2],[1937.0,0.8],[1937.20,1.2],[1937.40,1.0],[1937.60,0.6],[1937.72,0.2],
  [1937.78,0.2],[1937.95,0.8],[1938.15,1.2],[1938.35,1.0],[1938.55,0.6],[1938.70,0.2],
  [1938.78,0.2],[1938.98,0.8],[1939.18,1.2],[1939.40,1.0],[1939.65,0.6],[1939.85,0.2],
  [1940.02,0.2],[1940.22,0.8],[1940.42,1.1],[1940.62,0.8],[1940.82,0.4],[1940.988,0.2]];

// one entry per panel, series in legend order: mu x/y/z, sigma x/y/z
var panelSeries = [
  [muX_a, muY_a, muZ_a, sigX_a, sigY_a, sigZ_a],
  [muX_b, muY_b, muZ_b, sigX_b, sigY_b, sigZ_b],
  [muX_c, muY_c, muZ_c, sigX_c, sigY_c, sigZ_c],
  [muX_d, muY_d, muZ_d, sigX_d, sigY_d, sigZ_d],
  [muX_e, muY_e, muZ_e, sigX_e, sigY_e, sigZ_e],
  [muX_f, muY_f, muZ_f, sigX_f, sigY_f, sigZ_f],
  [muX_g, muY_g, muZ_g, sigX_g, sigY_g, sigZ_g],
  [muX_h, muY_h, muZ_h, sigX_h, sigY_h, sigZ_h]];
var panelGait = [gait_a, gait_b, gait_c, gait_d, gait_e, gait_f, gait_g, gait_h];

// ---------- drawing ----------
var svg = d3.select("#chart");
var plotW = 421, plotH = 139;
var colLeft = [43.3, 612.3];
var rowTop = [9, 245.7, 483.3, 721.7];
var captionX = [255, 841];

var leftColor = "#2f86c9", rightColor = "#e2662f", axisGray = "#8c8c8c", textGray = "#262626";
var lineColor = ["#ff0000", "#ff0000", "#ff0000", "#0000ff", "#0000ff", "#0000ff"];
var lineDash = [null, "4,2.5", "4,2,1,2", null, "4,2.5", "4,2,1,2"];
var gaitColor = "#ff00ff";

panelSeries.forEach(function(series, i) {
  var left = colLeft[i % 2], top = rowTop[Math.floor(i / 2)];
  var g = svg.append("g").attr("transform", "translate(" + left + "," + top + ")");
  var x = d3.scaleLinear().domain(xDomains[i]).range([0, plotW]);
  var y = d3.scaleLinear().domain([-15, 10]).range([plotH, 0]);

  // dotted minor grid every 1 rad/s
  g.append("g").selectAll("line")
    .data(d3.range(-14, 10).filter(function(v) { return v % 5 !== 0; }))
    .enter().append("line")
    .attr("x1", 0).attr("x2", plotW)
    .attr("y1", function(d) { return y(d); }).attr("y2", function(d) { return y(d); })
    .attr("stroke", "#d9d9d9").attr("stroke-width", 0.6).attr("stroke-dasharray", "1,2");

  // major grid
  g.append("g").selectAll("line").data(yTicks).enter().append("line")
    .attr("x1", 0).attr("x2", plotW)
    .attr("y1", function(d) { return y(d); }).attr("y2", function(d) { return y(d); })
    .attr("stroke", "#e3e3e3").attr("stroke-width", 0.8);
  g.append("g").selectAll("line").data(xTicks[i]).enter().append("line")
    .attr("y1", 0).attr("y2", plotH)
    .attr("x1", function(d) { return x(d); }).attr("x2", function(d) { return x(d); })
    .attr("stroke", "#e3e3e3").attr("stroke-width", 0.8);

  // curves, clipped to the plot box
  var clipId = "clip" + i;
  g.append("clipPath").attr("id", clipId).append("rect")
    .attr("width", plotW).attr("height", plotH);
  var plot = g.append("g").attr("clip-path", "url(#" + clipId + ")");

  var curve = d3.line()
    .x(function(d) { return x(d[0]); })
    .y(function(d) { return y(d[1]); })
    .curve(d3.curveMonotoneX);
  series.forEach(function(s, k) {
    plot.append("path").datum(s)
      .attr("d", curve)
      .attr("fill", "none")
      .attr("stroke", lineColor[k])
      .attr("stroke-width", 0.9)
      .attr("stroke-dasharray", lineDash[k]);
  });

  var gaitLine = d3.line()
    .x(function(d) { return x(d[0]); })
    .y(function(d) { return y(gaitLevels[d[1]]); })
    .curve(d3.curveStepAfter);
  plot.append("path").datum(panelGait[i])
    .attr("d", gaitLine)
    .attr("fill", "none")
    .attr("stroke", gaitColor)
    .attr("stroke-width", 2.4)
    .attr("stroke-linejoin", "miter");

  // bottom axis
  var xAxis = g.append("g").attr("transform", "translate(0," + plotH + ")")
    .call(d3.axisBottom(x).tickValues(xTicks[i]).tickSize(-4).tickPadding(8.5)
      .tickFormat(function(d) { return String(d); }));
  xAxis.select(".domain").remove();
  xAxis.selectAll("line").attr("stroke", axisGray);
  xAxis.selectAll("text").attr("fill", textGray).style("font-size", "11px");
  // top ticks
  g.append("g").selectAll("line").data(xTicks[i]).enter().append("line")
    .attr("x1", function(d) { return x(d); }).attr("x2", function(d) { return x(d); })
    .attr("y1", 0).attr("y2", 4).attr("stroke", axisGray);

  // left axis
  var yAxis = g.append("g")
    .call(d3.axisLeft(y).tickValues(yTicks).tickSize(-4).tickPadding(4));
  yAxis.select(".domain").remove();
  yAxis.selectAll("line").attr("stroke", leftColor);
  yAxis.selectAll("text").attr("fill", leftColor).style("font-size", "11.5px");

  // right axis with gait phase names
  var right = g.append("g").attr("transform", "translate(" + plotW + ",0)");
  right.selectAll("line").data(gaitLevels).enter().append("line")
    .attr("x1", -4).attr("x2", 0)
    .attr("y1", function(d) { return y(d); }).attr("y2", function(d) { return y(d); })
    .attr("stroke", rightColor);
  right.selectAll("text").data(gaitLabels).enter().append("text")
    .attr("x", 4)
    .attr("y", function(d, k) { return y(gaitLevels[k]); })
    .attr("dy", "0.35em")
    .attr("fill", rightColor)
    .style("font-size", "11px")
    .text(function(d) { return d; });

  // box
  g.append("line").attr("x1", 0).attr("x2", plotW).attr("y1", 0).attr("y2", 0)
    .attr("stroke", axisGray).attr("stroke-width", 0.8);
  g.append("line").attr("x1", 0).attr("x2", plotW).attr("y1", plotH).attr("y2", plotH)
    .attr("stroke", axisGray).attr("stroke-width", 0.8);
  g.append("line").attr("x1", 0).attr("x2", 0).attr("y1", 0).attr("y2", plotH)
    .attr("stroke", leftColor).attr("stroke-width", 0.8);
  g.append("line").attr("x1", plotW).attr("x2", plotW).attr("y1", 0).attr("y2", plotH)
    .attr("stroke", rightColor).attr("stroke-width", 0.8);

  // axis titles
  g.append("text").attr("x", plotW / 2).attr("y", plotH + 33)
    .attr("text-anchor", "middle").attr("fill", textGray)
    .style("font-size", "11px").text("time (s)");
  g.append("text")
    .attr("transform", "translate(" + (13 - left + (i % 2 ? 569 : 0)) + "," + (plotH / 2) + ") rotate(-90)")
    .attr("text-anchor", "middle").attr("dy", "0.35em").attr("fill", leftColor)
    .style("font-size", "11.5px").text("rad/s");

  // sub-caption
  svg.append("text").attr("x", captionX[i % 2]).attr("y", top + 212)
    .attr("text-anchor", "middle")
    .style("font-family", "'Liberation Serif', 'DejaVu Serif', serif")
    .style("font-size", "24.5px").attr("fill", "#000")
    .text(captions[i]);
});

// legend (panel a only)
var lg = svg.append("g");
lg.append("rect").attr("x", 97.3).attr("y", 12.3).attr("width", 311).attr("height", 20)
  .attr("fill", "#fff").attr("stroke", "#6e6e6e").attr("stroke-width", 0.8);
var legendLineX = [100, 135, 176, 215, 252, 290, 328];
var legendTextX = [123, 161, 199, 237, 275, 312, 351];
legendBase.forEach(function(label, k) {
  var isGait = k === 6;
  lg.append("line")
    .attr("x1", legendLineX[k]).attr("x2", legendLineX[k] + (isGait ? 22 : 20))
    .attr("y1", 22.3).attr("y2", 22.3)
    .attr("stroke", isGait ? gaitColor : lineColor[k])
    .attr("stroke-width", isGait ? 2.4 : 0.9)
    .attr("stroke-dasharray", isGait ? null : lineDash[k]);
  var t = lg.append("text").attr("x", legendTextX[k]).attr("y", 26.5)
    .attr("fill", "#000").style("font-size", "11px");
  if (isGait) {
    t.text(label);
  } else {
    t.append("tspan").style("font-style", "italic").style("font-family", "'DejaVu Serif', serif").text(label);
    t.append("tspan").attr("dy", -5).style("font-size", "8px").text(legendSup[k]);
  }
});
</script>
</body>
</html>
